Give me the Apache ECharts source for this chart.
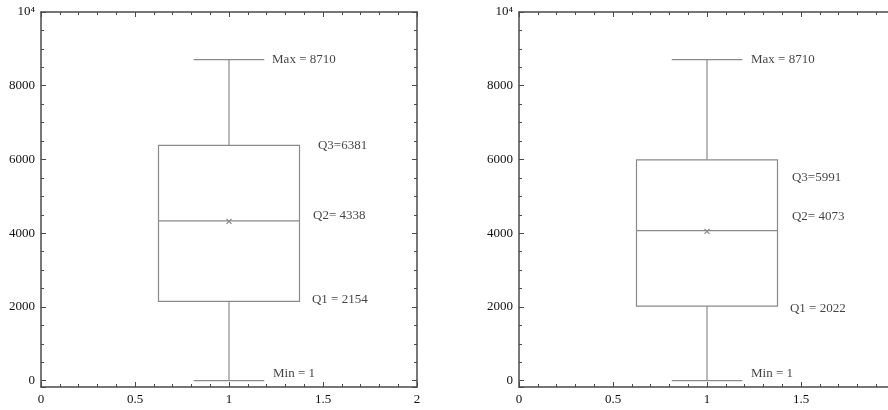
<!doctype html>
<html lang="en">
<head>
<meta charset="UTF-8">
<title>箱线图</title>
<script src="https://cdn.jsdelivr.net/npm/echarts@6/dist/echarts.min.js"></script>
<style>
  html, body { margin: 0; padding: 0; background: #fff; overflow: hidden; }
  /* the right panel runs past the picture edge, like the original */
  #main { width: 904px; height: 410px; }
</style>
</head>
<body>
<div id="main"></div>
<script>
// box statistics: min, q1, median, q3, max
var statNames  = ['Min = ', 'Q1 = ', 'Q2= ', 'Q3=', 'Max = '];
var leftStats  = [1, 2154, 4338, 6381, 8710];
var rightStats = [1, 2022, 4073, 5991, 8710];
var leftMean   = 4320;
var rightMean  = 4050;
var boxX       = 1;

// where the annotation text sits (x in axis units, dy in px)
var leftLabelX  = [1.234, 1.441, 1.447, 1.473, 1.229];
var leftLabelDy = [-7, -2, -5, 0, 0];
var rightLabelX  = [1.234, 1.441, 1.452, 1.452, 1.234];
var rightLabelDy = [-7, 2, -14, 18, 0];

var boxWidth = 0.75, capWidth = 0.375;
var boxColor = '#8a8a8a';
var axisColor = '#4a4a4a';
var serif = '"Liberation Serif", "DejaVu Serif", serif';

function renderBox(params, api) {
    var x = api.value(0);
    var pMin = api.coord([x, api.value(1)]);
    var pQ1 = api.coord([x, api.value(2)]);
    var pMed = api.coord([x, api.value(3)]);
    var pQ3 = api.coord([x, api.value(4)]);
    var pMax = api.coord([x, api.value(5)]);
    var pMean = api.coord([x, api.value(6)]);
    var half = api.size([boxWidth, 0])[0] / 2;
    var capHalf = api.size([capWidth, 0])[0] / 2;
    var cx = pMed[0];
    var st = { stroke: boxColor, lineWidth: 1.2, fill: null };
    function ln(x1, y1, x2, y2) {
        return { type: 'line', shape: { x1: x1, y1: y1, x2: x2, y2: y2 }, style: st };
    }
    var m = 2.5;
    return {
        type: 'group',
        children: [
            ln(cx, pMin[1], cx, pQ1[1]),
            ln(cx, pQ3[1], cx, pMax[1]),
            ln(cx - capHalf, pMin[1], cx + capHalf, pMin[1]),
            ln(cx - capHalf, pMax[1], cx + capHalf, pMax[1]),
            { type: 'rect', shape: { x: cx - half, y: pQ3[1], width: half * 2, height: pQ1[1] - pQ3[1] }, style: st },
            ln(cx - half, pMed[1], cx + half, pMed[1]),
            ln(cx - m, pMean[1] - m, cx + m, pMean[1] + m),
            ln(cx - m, pMean[1] + m, cx + m, pMean[1] - m)
        ]
    };
}

function labelData(stats, xs, dys) {
    return stats.map(function (v, i) {
        return {
            value: [xs[i], v],
            name: statNames[i] + v,
            label: { offset: [0, dys[i]] }
        };
    });
}

var tickStyle = { color: axisColor, width: 1 };

function xAxisFor(grid, top) {
    return {
        type: 'value', gridIndex: grid, position: top ? 'top' : 'bottom',
        min: 0, max: 2, interval: 0.5,
        axisLine: { show: true, onZero: false, lineStyle: { color: axisColor, width: 1.5 } },
        axisTick: { show: true, inside: true, length: 5, lineStyle: tickStyle },
        minorTick: { show: true, splitNumber: 5, length: 3, lineStyle: tickStyle },
        splitLine: { show: false },
        axisLabel: { show: !top, fontFamily: serif, fontSize: 13, color: '#111', margin: 6 }
    };
}

function yAxisFor(grid, right) {
    return {
        type: 'value', gridIndex: grid, position: right ? 'right' : 'left',
        min: -170, max: 10000, splitNumber: 5,
        axisLine: { show: true, onZero: false, lineStyle: { color: axisColor, width: 1.5 } },
        axisTick: { show: true, inside: true, length: 5, lineStyle: tickStyle },
        minorTick: { show: true, splitNumber: 4, length: 3, lineStyle: tickStyle },
        splitLine: { show: false },
        axisLabel: {
            show: !right, fontFamily: serif, fontSize: 13, color: '#111', margin: 6,
            showMinLabel: true,
            formatter: function (v) {
                if (v < 0) return '';
                if (v === 10000) return '10\u2074';
                return String(v);
            }
        }
    };
}

var chart = echarts.init(document.getElementById('main'), null, { renderer: 'canvas' });

var option = {
    animation: false,
    backgroundColor: '#fff',
    grid: [
        { left: 41, top: 12, width: 376, height: 375 },
        { left: 519, top: 12, width: 376, height: 375 }
    ],
    xAxis: [xAxisFor(0, false), xAxisFor(0, true), xAxisFor(1, false), xAxisFor(1, true)],
    yAxis: [yAxisFor(0, false), yAxisFor(0, true), yAxisFor(1, false), yAxisFor(1, true)],
    series: [
        {
            type: 'custom', xAxisIndex: 0, yAxisIndex: 0,
            renderItem: renderBox,
            encode: { x: 0, y: [1, 2, 3, 4, 5] },
            data: [[boxX].concat(leftStats, [leftMean])]
        },
        {
            type: 'custom', xAxisIndex: 2, yAxisIndex: 2,
            renderItem: renderBox,
            encode: { x: 0, y: [1, 2, 3, 4, 5] },
            data: [[boxX].concat(rightStats, [rightMean])]
        },
        {
            type: 'scatter', xAxisIndex: 0, yAxisIndex: 0, symbolSize: 0,
            label: { show: true, position: 'right', distance: 0, formatter: '{b}',
                     fontFamily: serif, fontSize: 13, color: '#111' },
            data: labelData(leftStats, leftLabelX, leftLabelDy)
        },
        {
            type: 'scatter', xAxisIndex: 2, yAxisIndex: 2, symbolSize: 0,
            label: { show: true, position: 'right', distance: 0, formatter: '{b}',
                     fontFamily: serif, fontSize: 13, color: '#111' },
            data: labelData(rightStats, rightLabelX, rightLabelDy)
        }
    ]
};

chart.setOption(option);
</script>
</body>
</html>
